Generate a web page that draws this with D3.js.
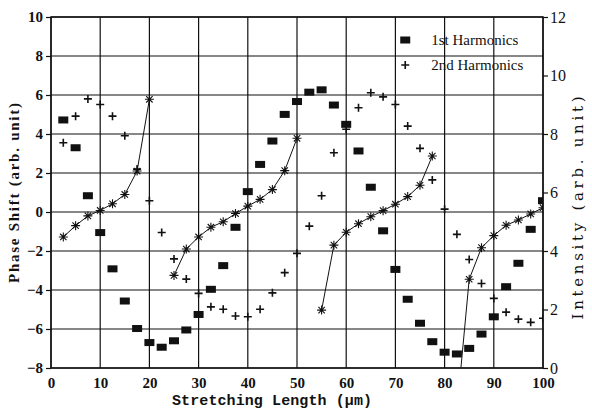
<!DOCTYPE html>
<html>
<head>
<meta charset="utf-8">
<script src="https://cdn.jsdelivr.net/npm/d3@7"></script>
<style>
  body { margin: 0; background: #fff; }
  svg { display: block; }
</style>
</head>
<body>
<div id="chart"></div>
<script>
// stretching length positions (µm)
const lengths = [2.5, 5, 7.5, 10, 12.5, 15, 17.5, 20, 22.5, 25, 27.5, 30, 32.5, 35, 37.5, 40,
    42.5, 45, 47.5, 50, 52.5, 55, 57.5, 60, 62.5, 65, 67.5, 70, 72.5, 75, 77.5, 80,
    82.5, 85, 87.5, 90, 92.5, 95, 97.5, 100];

// intensity, right axis
const firstHarmonics = [8.48, 7.53, 5.89, 4.63, 3.39, 2.29, 1.35, 0.87, 0.71, 0.93, 1.30, 1.83,
    2.69, 3.50, 4.81, 6.03, 6.96, 7.76, 8.67, 9.11, 9.43, 9.51, 8.99, 8.33, 7.42, 6.18,
    4.69, 3.37, 2.35, 1.53, 0.90, 0.54, 0.48, 0.67, 1.16, 1.75, 2.78, 3.58, 4.74, 5.72];

const secondHarmonics = [7.70, 8.61, 9.20, 9.01, 8.61, 7.94, 6.80, 5.72, 4.63, 3.73, 3.04, 2.55,
    2.09, 2.01, 1.78, 1.75, 2.01, 2.57, 3.26, 3.92, 4.85, 5.89, 7.36, 8.16, 8.90, 9.41,
    9.27, 9.01, 8.27, 7.51, 6.43, 5.43, 4.57, 3.71, 2.89, 2.38, 1.91, 1.67, 1.56, 1.70];

// phase shift, left axis; each branch is drawn as its own line
const phaseSegments = [
    [[2.5, -1.28], [5, -0.7], [7.5, -0.2], [10, 0.08], [12.5, 0.42], [15, 0.9], [17.5, 2.1], [20, 5.78]],
    [[25, -3.25], [27.5, -1.9], [30, -1.28], [32.5, -0.78], [35, -0.5], [37.5, -0.08], [40, 0.3],
     [42.5, 0.65], [45, 1.15], [47.5, 2.12], [50, 3.78]],
    [[55, -5.03], [57.5, -1.7], [60, -1.04], [62.5, -0.6], [65, -0.24], [67.5, 0.07], [70, 0.4],
     [72.5, 0.79], [75, 1.37], [77.5, 2.87]],
    [[82.5, -10.2], [85, -3.45], [87.5, -1.83], [90, -1.21], [92.5, -0.68], [95, -0.41], [97.5, -0.1], [100, 0.22]]
];

const xTicks = [0, 10, 20, 30, 40, 50, 60, 70, 80, 90, 100];
const leftTicks = [-8, -6, -4, -2, 0, 2, 4, 6, 8, 10];
const rightTicks = [0, 2, 4, 6, 8, 10, 12];

const width = 592, height = 409;
const margin = { top: 17, right: 49, bottom: 41, left: 51 };
const w = width - margin.left - margin.right;
const h = height - margin.top - margin.bottom;

const svg = d3.select("#chart").append("svg")
    .attr("width", width)
    .attr("height", height);

const g = svg.append("g")
    .attr("transform", `translate(${margin.left},${margin.top})`);

const x = d3.scaleLinear().domain([0, 100]).range([0, w]);
const yL = d3.scaleLinear().domain([-8, 10]).range([h, 0]);
const yR = d3.scaleLinear().domain([0, 12]).range([h, 0]);

svg.append("clipPath").attr("id", "plot-clip")
    .append("rect").attr("width", w).attr("height", h);

const tickFont = "'Liberation Serif', 'Times New Roman', serif";

// grid
g.append("g")
    .selectAll("line")
    .data(xTicks)
    .join("line")
    .attr("x1", d => x(d)).attr("x2", d => x(d))
    .attr("y1", 0).attr("y2", h)
    .attr("stroke", "#111").attr("stroke-width", 1.2);

g.append("g")
    .selectAll("line")
    .data(leftTicks)
    .join("line")
    .attr("x1", 0).attr("x2", w)
    .attr("y1", d => yL(d)).attr("y2", d => yL(d))
    .attr("stroke", "#111").attr("stroke-width", 1.2);

// axes
const xAxis = g.append("g")
    .attr("transform", `translate(0,${h})`)
    .call(d3.axisBottom(x).tickValues(xTicks).tickSize(0).tickPadding(9));

const leftAxis = g.append("g")
    .call(d3.axisLeft(yL).tickValues(leftTicks).tickSize(5).tickPadding(3));

const rightAxis = g.append("g")
    .attr("transform", `translate(${w},0)`)
    .call(d3.axisRight(yR).tickValues(rightTicks).tickSize(5).tickPadding(2));

[xAxis, leftAxis, rightAxis].forEach(a => {
    a.select(".domain").remove();
    a.selectAll("line").attr("stroke", "#111").attr("stroke-width", 1.2);
    a.selectAll("text")
        .attr("fill", "#111")
        .style("font-family", tickFont)
        .style("font-size", "15px")
        .style("font-weight", "bold");
});
rightAxis.selectAll("text").style("font-weight", "normal").style("font-size", "16px");

// frame
g.append("rect")
    .attr("width", w).attr("height", h)
    .attr("fill", "none")
    .attr("stroke", "#111")
    .attr("stroke-width", 1.5);

// phase shift lines
const line = d3.line().x(d => x(d[0])).y(d => yL(d[1]));
const plot = g.append("g").attr("clip-path", "url(#plot-clip)");

plot.selectAll(".phase")
    .data(phaseSegments)
    .join("path")
    .attr("class", "phase")
    .attr("d", line)
    .attr("fill", "none")
    .attr("stroke", "#111")
    .attr("stroke-width", 1);

const asterisk = "M-4.5,0H4.5M0,-4.5V4.5M-3.2,-3.2L3.2,3.2M-3.2,3.2L3.2,-3.2";
plot.selectAll(".star")
    .data(phaseSegments.flat())
    .join("path")
    .attr("class", "star")
    .attr("transform", d => `translate(${x(d[0])},${yL(d[1])})`)
    .attr("d", asterisk)
    .attr("stroke", "#111")
    .attr("stroke-width", 1.1);

// 1st harmonics: filled squares
plot.selectAll(".h1")
    .data(lengths)
    .join("rect")
    .attr("class", "h1")
    .attr("x", d => x(d) - 5)
    .attr("y", (d, i) => yR(firstHarmonics[i]) - 3.5)
    .attr("width", 10).attr("height", 7)
    .attr("fill", "#111");

// 2nd harmonics: plus signs
const plus = "M-4,0H4M0,-4V4";
plot.selectAll(".h2")
    .data(lengths)
    .join("path")
    .attr("class", "h2")
    .attr("transform", (d, i) => `translate(${x(d)},${yR(secondHarmonics[i])})`)
    .attr("d", plus)
    .attr("stroke", "#111")
    .attr("stroke-width", 1.6);

// legend
const legend = g.append("g").attr("transform", `translate(${x(72)},0)`);
legend.append("rect")
    .attr("x", -5).attr("y", 23 - 3.5)
    .attr("width", 10).attr("height", 7)
    .attr("fill", "#111");
legend.append("path")
    .attr("transform", "translate(0,48)")
    .attr("d", plus)
    .attr("stroke", "#111")
    .attr("stroke-width", 1.6);
legend.selectAll("text")
    .data(["1st Harmonics", "2nd Harmonics"])
    .join("text")
    .attr("x", 26)
    .attr("y", (d, i) => 28 + i * 25)
    .attr("fill", "#111")
    .style("font-family", tickFont)
    .style("font-size", "15px")
    .text(d => d);

// axis titles
svg.append("text")
    .attr("x", 272).attr("y", 405)
    .attr("text-anchor", "middle")
    .attr("textLength", 200)
    .attr("fill", "#111")
    .style("font-family", "'Liberation Mono', 'Courier New', monospace")
    .style("font-size", "15px")
    .style("font-weight", "bold")
    .text("Stretching Length (µm)");

svg.append("text")
    .attr("transform", "translate(19,193) rotate(-90)")
    .attr("text-anchor", "middle")
    .attr("textLength", 180)
    .attr("fill", "#111")
    .style("font-family", tickFont)
    .style("font-size", "15px")
    .style("font-weight", "bold")
    .text("Phase Shift (arb. unit)");

svg.append("text")
    .attr("transform", "translate(583,208) rotate(-90)")
    .attr("text-anchor", "middle")
    .attr("textLength", 223)
    .attr("fill", "#111")
    .style("font-family", "'DejaVu Serif', serif")
    .style("font-size", "15px")
    .text("Intensity (arb. unit)");
</script>
</body>
</html>
